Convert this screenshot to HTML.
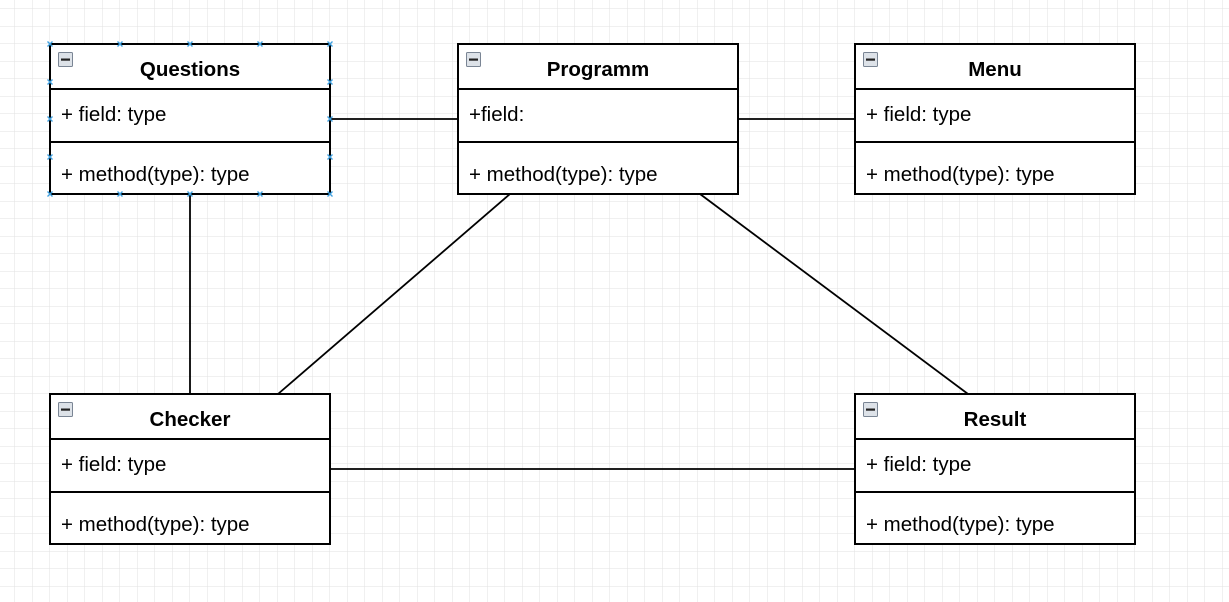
<!DOCTYPE html>
<html><head><style>
html,body{margin:0;padding:0;background:#fff;}
svg{display:block;}
text{font-family:"Liberation Sans",sans-serif;font-size:20.5px;fill:#000;}
.t{font-weight:bold;}
</style></head><body>
<svg width="1229" height="602" viewBox="0 0 1229 602">
<defs>
<pattern id="g" x="14.5" y="8.5" width="17.5" height="17.5" patternUnits="userSpaceOnUse">
<path d="M0 0H17.5M0 0V17.5" stroke="#e2e2e2" stroke-width="1" fill="none"/>
</pattern>
<g id="ic"><rect x="0.5" y="0.5" width="14" height="14" rx="1" fill="#dde2e8" stroke="#7a8594"/><rect x="3" y="6.5" width="9" height="2.2" fill="#222"/></g>
</defs>
<rect width="1229" height="602" fill="url(#g)"/>
<g stroke="#000" stroke-width="1.8" fill="none">
<line x1="330" y1="119" x2="458" y2="119"/>
<line x1="738" y1="119" x2="855" y2="119"/>
<line x1="190" y1="194" x2="190" y2="394"/>
<line x1="510" y1="194" x2="278" y2="394"/>
<line x1="700" y1="194" x2="968" y2="394"/>
<line x1="330" y1="469" x2="855" y2="469"/>
</g>
<g stroke="#000" stroke-width="2" fill="#fff">
<rect x="50" y="44" width="280" height="150"/>
<rect x="458" y="44" width="280" height="150"/>
<rect x="855" y="44" width="280" height="150"/>
<rect x="50" y="394" width="280" height="150"/>
<rect x="855" y="394" width="280" height="150"/>
</g>
<g stroke="#000" stroke-width="2">
<line x1="50" y1="89" x2="330" y2="89"/><line x1="50" y1="142" x2="330" y2="142"/>
<line x1="458" y1="89" x2="738" y2="89"/><line x1="458" y1="142" x2="738" y2="142"/>
<line x1="855" y1="89" x2="1135" y2="89"/><line x1="855" y1="142" x2="1135" y2="142"/>
<line x1="50" y1="439" x2="330" y2="439"/><line x1="50" y1="492" x2="330" y2="492"/>
<line x1="855" y1="439" x2="1135" y2="439"/><line x1="855" y1="492" x2="1135" y2="492"/>
</g>
<use href="#ic" x="58" y="52"/><use href="#ic" x="466" y="52"/><use href="#ic" x="863" y="52"/>
<use href="#ic" x="58" y="402"/><use href="#ic" x="863" y="402"/>
<text class="t" x="190" y="76" text-anchor="middle">Questions</text>
<text class="t" x="598" y="76" text-anchor="middle">Programm</text>
<text class="t" x="995" y="76" text-anchor="middle">Menu</text>
<text class="t" x="190" y="426" text-anchor="middle">Checker</text>
<text class="t" x="995" y="426" text-anchor="middle">Result</text>
<text x="61" y="121">+ field: type</text><text x="61" y="181">+ method(type): type</text>
<text x="469" y="121">+field:</text><text x="469" y="181">+ method(type): type</text>
<text x="866" y="121">+ field: type</text><text x="866" y="181">+ method(type): type</text>
<text x="61" y="471">+ field: type</text><text x="61" y="531">+ method(type): type</text>
<text x="866" y="471">+ field: type</text><text x="866" y="531">+ method(type): type</text>
<g stroke="#3fa0e0" stroke-width="1.4">
<path d="M47.5 41.5l5 5M52.5 41.5l-5 5M117.5 41.5l5 5M122.5 41.5l-5 5M187.5 41.5l5 5M192.5 41.5l-5 5M257.5 41.5l5 5M262.5 41.5l-5 5M327.5 41.5l5 5M332.5 41.5l-5 5
M47.5 191.5l5 5M52.5 191.5l-5 5M117.5 191.5l5 5M122.5 191.5l-5 5M187.5 191.5l5 5M192.5 191.5l-5 5M257.5 191.5l5 5M262.5 191.5l-5 5M327.5 191.5l5 5M332.5 191.5l-5 5
M47.5 79.5l5 5M52.5 79.5l-5 5M327.5 79.5l5 5M332.5 79.5l-5 5M47.5 116.5l5 5M52.5 116.5l-5 5M327.5 116.5l5 5M332.5 116.5l-5 5M47.5 154.5l5 5M52.5 154.5l-5 5M327.5 154.5l5 5M332.5 154.5l-5 5"/>
</g>
</svg>
</body></html>
